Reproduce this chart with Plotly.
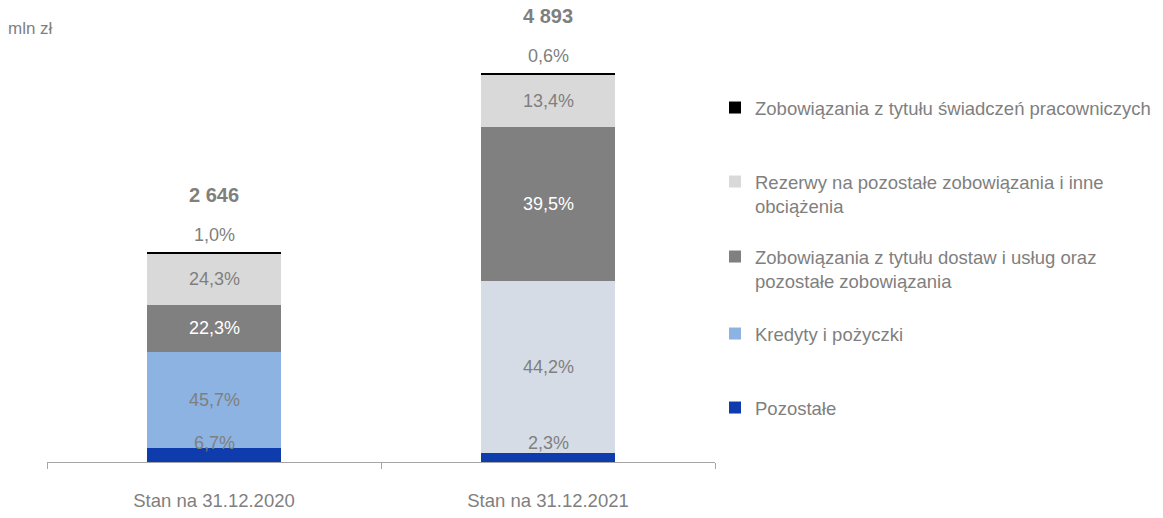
import plotly.graph_objects as go

categories = ["Stan na 31.12.2020", "Stan na 31.12.2021"]
totals = [2646, 4893]
series_names = [
    "Pozostałe",
    "Kredyty i pożyczki",
    "Zobowiązania z tytułu dostaw i usług oraz<br>pozostałe zobowiązania",
    "Rezerwy na pozostałe zobowiązania i inne<br>obciążenia",
    "Zobowiązania z tytułu świadczeń pracowniczych",
]
pozostale_pct = [6.7, 2.3]
kredyty_pct = [45.7, 44.2]
dostaw_pct = [22.3, 39.5]
rezerwy_pct = [24.3, 13.4]
swiadczen_pct = [1.0, 0.6]

series_pct = [pozostale_pct, kredyty_pct, dostaw_pct, rezerwy_pct, swiadczen_pct]
series_colors = [
    ["#0E3CAD", "#0E3CAD"],
    ["#8DB3E2", "#D6DCE5"],
    ["#808080", "#808080"],
    ["#D9D9D9", "#D9D9D9"],
    ["#000000", "#000000"],
]
label_colors = ["#7F7F7F", "#7F7F7F", "#FFFFFF", "#7F7F7F", "#7F7F7F"]

FONT = "Liberation Sans, Arial, sans-serif"
GRAY = "#7F7F7F"
W, H = 1163, 518
plot_left, plot_right = 47, 720
plot_top, plot_bottom = 20, 462
LBL = 18

def fmt_pct(p):
    return f"{p:.1f}".replace(".", ",") + "%"

fig = go.Figure()
legend_names = ["legend5", "legend4", "legend3", "legend2", "legend"]
for i, (name, pct) in enumerate(zip(series_names, series_pct)):
    vals = [t * p / 100 for t, p in zip(totals, pct)]
    fig.add_trace(go.Bar(
        x=categories, y=vals, name=name,
        marker=dict(color=series_colors[i], line=dict(width=0)),
        legend=legend_names[i],
        hoverinfo="skip",
    ))

annotations = []
for j, cat in enumerate(categories):
    base = 0.0
    for i, pct in enumerate(series_pct):
        v = totals[j] * pct[j] / 100
        if i == 0:
            annotations.append(dict(x=cat, y=0, text=fmt_pct(pct[j]), showarrow=False,
                                    yanchor="middle", yshift=19,
                                    font=dict(family=FONT, size=LBL, color=label_colors[i])))
        elif i == 4:
            annotations.append(dict(x=cat, y=base + v, text=fmt_pct(pct[j]), showarrow=False,
                                    yanchor="middle", yshift=17,
                                    font=dict(family=FONT, size=LBL, color=label_colors[i])))
        else:
            annotations.append(dict(x=cat, y=base + v / 2, text=fmt_pct(pct[j]), showarrow=False,
                                    yanchor="middle",
                                    font=dict(family=FONT, size=LBL, color=label_colors[i])))
        base += v
    annotations.append(dict(x=cat, y=totals[j], text="<b>" + f"{totals[j]:,}".replace(",", " ") + "</b>",
                            showarrow=False, yanchor="middle", yshift=57,
                            font=dict(family=FONT, size=20, color=GRAY)))

pw = plot_right - plot_left
ph = plot_bottom - plot_top
annotations.append(dict(xref="paper", yref="paper", x=(6 - plot_left) / pw, y=(plot_bottom - 28) / ph,
                        xanchor="left", yanchor="middle", text="mln zł", showarrow=False,
                        font=dict(family=FONT, size=17, color=GRAY)))

ymax = totals[1] * ph / (462 - 73)

legend_font = dict(family=FONT, size=18.5, color=GRAY)
leg_common = dict(xref="container", yref="container", xanchor="left", bgcolor="rgba(0,0,0,0)",
                  font=legend_font, borderwidth=0)
legend_y = {"legend": (108, "middle"), "legend2": (194, "top"), "legend3": (269, "top"),
            "legend4": (334, "middle"), "legend5": (408, "middle")}
legend_layout = {}
for k, (py, va) in legend_y.items():
    legend_layout[k] = dict(leg_common, x=715 / W, y=1 - py / H, yanchor="middle", valign=va)

fig.update_layout(
    width=W, height=H,
    margin=dict(l=plot_left, r=W - plot_right, t=plot_top, b=H - plot_bottom),
    barmode="stack", bargap=0.6,
    plot_bgcolor="white", paper_bgcolor="white",
    showlegend=True,
    font=dict(family=FONT, color=GRAY),
    xaxis=dict(showline=True, linecolor="#A6A6A6", linewidth=1, ticks="outside", ticklen=6,
               tickcolor="#A6A6A6", tickson="boundaries", tickfont=dict(family=FONT, size=18.5, color=GRAY),
               ticklabelstandoff=22, range=[-0.5, 1.5], automargin=False),
    yaxis=dict(visible=False, range=[0, ymax], automargin=False),
    annotations=annotations,
    **legend_layout,
)

fig.write_html("out.html", config={"displayModeBar": False},
               post_script="document.body.style.margin='0';")
